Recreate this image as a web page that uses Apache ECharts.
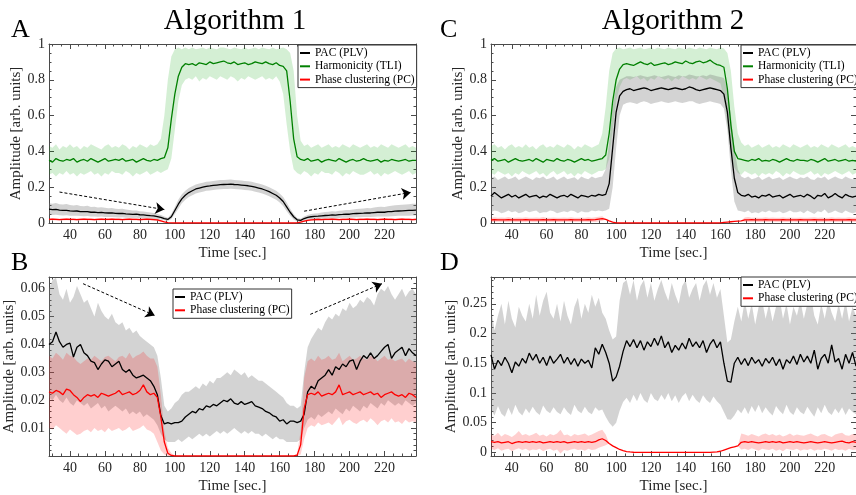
<!DOCTYPE html>
<html><head><meta charset="utf-8">
<script src="https://cdn.jsdelivr.net/npm/echarts@6/dist/echarts.min.js"></script>
<style>html,body{margin:0;padding:0;background:#fff}#c{width:856px;height:495px}</style>
</head><body><div id="c"></div>
<script>
const time = [28,30,32,34,36,38,40,42,44,46,
48,50,52,54,56,58,60,62,64,66,
68,70,72,74,76,78,80,82,84,86,
88,90,92,94,96,98,100,102,104,106,
108,110,112,114,116,118,120,122,124,126,
128,130,132,134,136,138,140,142,144,146,
148,150,152,154,156,158,160,162,164,166,
168,170,172,174,176,178,180,182,184,186,
188,190,192,194,196,198,200,202,204,206,
208,210,212,214,216,218,220,222,224,226,
228,230,232,234,236,238];

// ---------- Panel A (Algorithm 1) ----------
const aGreen = [.35,.34,.36,.35,.345,.355,.35,.36,.34,.35,
.355,.345,.36,.35,.34,.35,.36,.345,.35,.355,
.35,.36,.345,.35,.355,.34,.35,.36,.35,.345,
.355,.35,.36,.365,.42,.58,.72,.82,.87,.89,
.885,.89,.88,.895,.89,.885,.9,.89,.895,.9,
.905,.895,.89,.9,.885,.89,.895,.885,.89,.9,
.895,.89,.9,.89,.885,.895,.88,.875,.85,.68,
.47,.37,.355,.35,.36,.345,.35,.355,.34,.35,
.355,.35,.345,.36,.35,.34,.35,.355,.345,.35,
.36,.35,.345,.35,.355,.34,.35,.345,.355,.35,
.345,.35,.355,.345,.35,.35];
const aGreenHi = [.43,.42,.44,.41,.43,.42,.44,.42,.43,.41,
.43,.42,.44,.43,.42,.41,.43,.44,.42,.43,
.42,.44,.43,.41,.43,.42,.44,.43,.42,.44,
.43,.44,.47,.6,.8,.93,.97,.98,.97,.98,
.97,.98,.97,.975,.98,.97,.98,.975,.97,.98,
.98,.975,.97,.98,.975,.97,.98,.97,.975,.98,
.97,.98,.975,.97,.98,.97,.975,.98,.97,.95,
.85,.6,.46,.43,.44,.42,.43,.44,.42,.43,
.44,.42,.43,.42,.44,.43,.42,.44,.43,.42,
.43,.44,.42,.43,.42,.44,.43,.42,.44,.43,
.42,.43,.44,.42,.43,.42];
const aGreenLo = [.27,.28,.26,.28,.27,.29,.27,.28,.26,.28,
.27,.28,.29,.27,.28,.26,.28,.27,.29,.28,
.28,.27,.29,.28,.26,.28,.27,.28,.29,.27,
.28,.29,.28,.29,.3,.36,.52,.68,.77,.8,
.81,.8,.82,.79,.81,.8,.82,.81,.8,.82,
.81,.8,.82,.81,.79,.81,.8,.82,.81,.8,
.81,.82,.8,.81,.8,.82,.79,.72,.55,.4,
.3,.28,.27,.29,.28,.26,.28,.27,.29,.28,
.28,.27,.29,.28,.26,.28,.27,.29,.28,.27,
.27,.28,.29,.27,.28,.26,.28,.27,.28,.29,
.28,.27,.28,.29,.27,.28];
const aPac = [.078,.075,.076,.072,.070,.071,.068,.066,.067,.064,
.063,.064,.060,.061,.058,.059,.057,.056,.057,.054,
.053,.054,.051,.050,.048,.049,.046,.045,.043,.041,
.040,.036,.032,.025,.020,.035,.070,.105,.135,.155,
.170,.180,.190,.195,.200,.205,.207,.210,.212,.214,
.215,.216,.217,.215,.214,.212,.210,.208,.205,.200,
.195,.190,.183,.175,.165,.155,.140,.120,.090,.060,
.035,.018,.015,.025,.032,.035,.037,.038,.040,.042,
.043,.045,.044,.047,.048,.050,.049,.052,.053,.054,
.055,.057,.056,.058,.060,.061,.060,.063,.064,.066,
.067,.068,.069,.070,.071,.072];
const aPacHi = [.11,.108,.112,.105,.104,.106,.1,.098,.1,.095,
.094,.096,.09,.091,.087,.088,.085,.083,.084,.08,
.078,.079,.075,.073,.07,.07,.066,.064,.061,.058,
.056,.05,.045,.036,.03,.05,.09,.13,.16,.18,
.195,.205,.215,.22,.225,.23,.232,.235,.237,.24,
.24,.242,.243,.24,.239,.237,.235,.233,.23,.225,
.22,.215,.208,.2,.19,.18,.165,.145,.115,.08,
.05,.028,.024,.036,.045,.05,.053,.055,.058,.061,
.063,.066,.064,.068,.07,.073,.072,.076,.078,.08,
.081,.084,.083,.086,.089,.091,.09,.094,.096,.099,
.1,.102,.104,.105,.107,.108];
const aPacLo = [.048,.045,.046,.043,.042,.043,.041,.04,.041,.039,
.038,.039,.036,.037,.035,.036,.034,.033,.034,.032,
.031,.032,.03,.029,.028,.029,.027,.026,.025,.024,
.023,.021,.019,.015,.011,.022,.05,.08,.11,.13,
.145,.155,.165,.17,.175,.18,.182,.185,.187,.189,
.19,.19,.191,.19,.189,.187,.185,.183,.18,.175,
.17,.165,.158,.15,.14,.13,.115,.095,.065,.04,
.02,.009,.007,.015,.019,.021,.022,.023,.024,.025,
.026,.027,.027,.028,.029,.03,.029,.031,.032,.032,
.033,.034,.034,.035,.036,.036,.036,.037,.038,.039,
.04,.04,.041,.041,.042,.042];
const aPc = [.02,.021,.02,.019,.02,.021,.02,.02,.019,.02,
.021,.02,.02,.019,.02,.021,.02,.02,.021,.02,
.02,.019,.02,.021,.02,.02,.019,.02,.021,.02,
.019,.017,.012,.006,.002,.0005,0,0,0,0,
0,0,0,0,0,0,0,0,0,0,
0,0,0,0,0,0,0,0,0,0,
0,0,0,0,0,0,0,0,0,0,
0,.001,.005,.01,.015,.018,.019,.02,.019,.02,
.02,.021,.02,.019,.02,.02,.021,.02,.019,.02,
.02,.021,.02,.02,.019,.02,.021,.02,.02,.019,
.02,.021,.02,.02,.019,.02];
const aPcHi = [.026,.027,.026,.025,.026,.027,.026,.026,.025,.026,
.027,.026,.026,.025,.026,.027,.026,.026,.027,.026,
.026,.025,.026,.027,.026,.026,.025,.026,.027,.026,
.025,.023,.017,.009,.003,.001,0,0,0,0,
0,0,0,0,0,0,0,0,0,0,
0,0,0,0,0,0,0,0,0,0,
0,0,0,0,0,0,0,0,0,0,
0,.002,.008,.014,.02,.024,.025,.026,.025,.026,
.026,.027,.026,.025,.026,.026,.027,.026,.025,.026,
.026,.027,.026,.026,.025,.026,.027,.026,.026,.025,
.026,.027,.026,.026,.025,.026];
const aPcLo = [.014,.015,.014,.013,.014,.015,.014,.014,.013,.014,
.015,.014,.014,.013,.014,.015,.014,.014,.015,.014,
.014,.013,.014,.015,.014,.014,.013,.014,.015,.014,
.013,.011,.007,.003,.001,0,0,0,0,0,
0,0,0,0,0,0,0,0,0,0,
0,0,0,0,0,0,0,0,0,0,
0,0,0,0,0,0,0,0,0,0,
0,0,.002,.006,.01,.012,.013,.014,.013,.014,
.014,.015,.014,.013,.014,.014,.015,.014,.013,.014,
.014,.015,.014,.014,.013,.014,.015,.014,.014,.013,
.014,.015,.014,.014,.013,.014];
const arrowsA = [[[34,0.173],[94,0.075]],[[174,0.066],[235,0.171]]];

// ---------- Panel B (Algorithm 1, zoom) ----------
const bPac = [.040,.041,.0445,.041,.039,.040,.0405,.0355,.039,.040,
.037,.036,.034,.0335,.031,.033,.0345,.034,.032,.033,
.034,.031,.030,.031,.029,.028,.0285,.029,.028,.027,
.025,.022,.0145,.0115,.012,.0115,.012,.012,.0125,.014,
.015,.016,.0155,.017,.0165,.018,.0175,.0185,.018,.019,
.020,.0195,.0205,.019,.0185,.0195,.0185,.019,.0195,.018,
.0175,.017,.016,.0155,.0145,.014,.0125,.013,.0115,.0125,
.0125,.012,.0125,.015,.023,.025,.024,.027,.028,.029,
.031,.029,.032,.031,.033,.032,.034,.0345,.031,.034,
.036,.035,.037,.035,.036,.0375,.039,.040,.035,.037,
.038,.039,.036,.0385,.037,.036];
const bPacHi = [.060,.063,.064,.058,.056,.060,.055,.057,.061,.058,
.055,.056,.053,.050,.055,.052,.050,.049,.051,.048,
.047,.048,.045,.046,.044,.045,.043,.042,.041,.040,
.039,.036,.028,.018,.016,.017,.019,.020,.022,.023,
.023,.024,.025,.024,.026,.025,.027,.026,.028,.028,
.029,.030,.029,.031,.030,.029,.030,.028,.029,.028,
.027,.027,.026,.025,.024,.023,.022,.021,.019,.018,
.018,.017,.018,.030,.039,.042,.044,.046,.045,.048,
.050,.049,.051,.050,.053,.052,.055,.053,.054,.056,
.055,.057,.056,.054,.058,.060,.059,.061,.058,.056,
.058,.060,.057,.059,.060,.058];
const bPacLo = [.021,.020,.022,.020,.019,.021,.019,.018,.020,.019,
.018,.019,.017,.018,.019,.017,.018,.016,.017,.018,
.017,.016,.017,.015,.016,.015,.016,.014,.015,.014,
.013,.011,.008,.006,.005,.005,.005,.006,.005,.006,
.007,.006,.007,.008,.007,.008,.007,.008,.009,.008,
.009,.008,.009,.010,.009,.008,.009,.008,.009,.008,
.008,.007,.008,.007,.006,.007,.006,.006,.005,.005,
.005,.005,.006,.010,.013,.014,.013,.015,.014,.015,
.016,.015,.017,.016,.015,.017,.016,.018,.017,.016,
.018,.017,.019,.018,.017,.019,.018,.020,.019,.018,
.019,.018,.020,.019,.018,.019];
const bPc = [.023,.0225,.0235,.023,.022,.024,.0235,.022,.021,.0195,
.021,.022,.0215,.022,.021,.0225,.022,.0215,.022,.0225,
.0235,.022,.0225,.023,.022,.0225,.0235,.0255,.023,.022,
.0225,.021,.014,.005,.001,.0002,0,0,0,0,
0,0,0,0,0,0,0,0,0,0,
0,0,0,0,0,0,0,0,0,0,
0,0,0,0,0,0,0,0,0,0,
0,.0003,.004,.017,.022,.0225,.022,.023,.0215,.022,
.0225,.022,.023,.0255,.022,.0225,.023,.022,.0225,.023,
.022,.0225,.023,.022,.0225,.021,.022,.0225,.023,.022,
.0215,.022,.021,.0225,.022,.021];
const bPcHi = [.036,.035,.037,.036,.0345,.037,.036,.0355,.034,.033,
.034,.035,.0345,.036,.035,.034,.0355,.036,.035,.034,
.0355,.036,.035,.037,.035,.036,.0365,.0375,.036,.035,
.035,.032,.022,.009,.003,.001,.0003,0,0,0,
0,0,0,0,0,0,0,0,0,0,
0,0,0,0,0,0,0,0,0,0,
0,0,0,0,0,0,0,0,0,0,
0,.001,.009,.028,.034,.035,.034,.036,.0345,.035,
.036,.0345,.035,.037,.034,.035,.036,.0345,.035,.036,
.035,.0345,.036,.0355,.034,.035,.036,.0345,.035,.034,
.0345,.035,.0335,.035,.034,.0335];
const bPcLo = [.01,.0095,.011,.01,.009,.008,.0095,.0085,.0075,.008,
.009,.0095,.0085,.01,.009,.0095,.0085,.01,.009,.0095,
.01,.009,.0095,.0105,.009,.0095,.01,.011,.0095,.009,
.008,.005,.002,.0005,0,0,0,0,0,0,
0,0,0,0,0,0,0,0,0,0,
0,0,0,0,0,0,0,0,0,0,
0,0,0,0,0,0,0,0,0,0,
0,0,.0005,.006,.01,.011,.0105,.012,.011,.0115,
.012,.011,.0125,.014,.011,.0125,.013,.012,.0115,.0125,
.013,.012,.0135,.0125,.011,.0125,.013,.012,.0135,.012,
.0125,.0115,.013,.012,.0125,.012];
const arrowsB = [[[47.5,0.0618],[88.5,0.0504]],[[177.5,0.0508],[218.5,0.0618]]];

// ---------- Panel C (Algorithm 2) ----------
const cGreen = [.35,.36,.345,.35,.355,.34,.35,.36,.35,.345,
.35,.355,.345,.36,.35,.34,.355,.35,.345,.36,
.35,.345,.355,.35,.34,.35,.36,.35,.355,.345,
.35,.355,.36,.38,.5,.68,.8,.86,.885,.89,
.885,.88,.89,.9,.89,.885,.895,.88,.885,.89,
.895,.885,.89,.9,.895,.89,.905,.895,.89,.9,
.905,.895,.9,.91,.895,.885,.88,.87,.75,.55,
.4,.36,.355,.35,.345,.355,.35,.36,.345,.35,
.345,.355,.35,.34,.35,.36,.35,.345,.355,.35,
.35,.345,.355,.35,.34,.35,.36,.345,.35,.355,
.345,.35,.355,.345,.35,.345];
const cGreenHi = [.43,.44,.42,.43,.41,.43,.44,.42,.43,.42,
.44,.42,.43,.41,.43,.44,.42,.43,.42,.44,
.43,.42,.44,.43,.41,.43,.42,.44,.43,.42,
.43,.44,.5,.65,.85,.95,.975,.98,.97,.975,
.98,.97,.975,.98,.97,.975,.98,.97,.98,.975,
.97,.98,.975,.97,.98,.975,.97,.98,.975,.97,
.98,.975,.97,.98,.975,.97,.98,.975,.95,.85,
.65,.5,.45,.43,.44,.42,.43,.44,.42,.43,
.44,.42,.43,.42,.44,.43,.42,.44,.43,.42,
.43,.44,.42,.43,.42,.44,.43,.42,.44,.43,
.42,.43,.44,.42,.43,.42];
const cGreenLo = [.28,.27,.29,.28,.27,.28,.26,.28,.27,.29,
.28,.27,.28,.29,.27,.28,.26,.28,.29,.27,
.28,.29,.27,.28,.26,.28,.27,.29,.28,.27,
.28,.29,.29,.3,.36,.52,.68,.76,.8,.81,
.8,.81,.82,.8,.81,.79,.81,.8,.82,.81,
.8,.81,.79,.81,.8,.82,.81,.8,.81,.8,
.82,.81,.8,.81,.8,.79,.78,.7,.55,.4,
.31,.28,.27,.29,.28,.27,.28,.26,.28,.27,
.28,.27,.29,.28,.26,.28,.27,.29,.28,.27,
.27,.28,.29,.27,.28,.26,.28,.27,.28,.29,
.28,.27,.28,.29,.27,.28];
const cPac = [.15,.17,.155,.14,.15,.16,.145,.155,.14,.15,
.16,.145,.15,.155,.14,.15,.145,.16,.15,.14,
.15,.155,.145,.16,.15,.14,.155,.15,.145,.155,
.15,.16,.155,.16,.22,.42,.62,.71,.735,.745,
.75,.74,.745,.75,.755,.75,.74,.745,.75,.755,
.75,.745,.75,.755,.75,.745,.75,.76,.755,.745,
.74,.745,.75,.755,.75,.745,.74,.72,.62,.42,
.25,.17,.155,.15,.16,.145,.15,.14,.155,.15,
.16,.145,.15,.155,.14,.15,.16,.145,.15,.155,
.145,.16,.15,.135,.155,.15,.165,.14,.15,.165,
.15,.14,.16,.15,.145,.15];
const cPacHi = [.25,.26,.24,.25,.26,.245,.25,.26,.24,.25,
.26,.25,.24,.255,.25,.26,.245,.25,.26,.24,
.25,.26,.245,.25,.255,.24,.26,.25,.245,.26,
.25,.255,.26,.3,.45,.65,.76,.8,.81,.82,
.82,.815,.82,.825,.82,.815,.82,.825,.82,.815,
.82,.825,.82,.815,.825,.82,.82,.83,.825,.82,
.82,.825,.82,.83,.825,.82,.815,.81,.75,.6,
.42,.3,.26,.25,.26,.245,.25,.26,.24,.25,
.26,.245,.25,.255,.24,.25,.26,.25,.245,.255,
.25,.26,.245,.24,.255,.25,.26,.24,.25,.26,
.25,.245,.26,.25,.245,.25];
const cPacLo = [.06,.07,.065,.055,.06,.07,.06,.065,.055,.06,
.07,.06,.065,.07,.055,.06,.06,.07,.065,.055,
.06,.065,.06,.07,.065,.055,.065,.06,.06,.07,
.065,.07,.065,.07,.08,.2,.42,.6,.66,.67,
.675,.67,.665,.675,.68,.675,.665,.67,.675,.68,
.675,.67,.675,.68,.675,.67,.675,.68,.68,.67,
.665,.67,.675,.68,.675,.67,.665,.64,.52,.3,
.12,.07,.065,.06,.07,.055,.06,.055,.065,.06,
.07,.06,.06,.065,.055,.06,.07,.06,.06,.065,
.055,.07,.06,.05,.065,.06,.075,.055,.06,.07,
.06,.055,.07,.06,.055,.06];
const cPc = [.018,.019,.018,.017,.018,.019,.018,.018,.017,.018,
.019,.018,.018,.017,.018,.019,.018,.018,.019,.018,
.018,.017,.018,.019,.018,.018,.017,.018,.019,.018,
.019,.022,.025,.02,.012,.005,.001,0,0,0,
0,0,0,0,0,0,0,0,0,0,
0,0,0,0,0,0,0,0,0,0,
0,0,0,0,0,0,.001,.003,.005,.007,
.009,.011,.012,.018,.018,.019,.018,.017,.018,.019,
.018,.018,.017,.018,.019,.018,.018,.017,.018,.019,
.018,.017,.018,.019,.018,.018,.017,.018,.019,.018,
.018,.017,.018,.019,.018,.018];
const cPcHi = [.03,.032,.029,.031,.03,.033,.03,.029,.031,.03,
.032,.03,.029,.031,.03,.033,.03,.029,.031,.03,
.03,.031,.03,.032,.029,.03,.031,.03,.032,.03,
.032,.035,.038,.022,.012,.005,.001,0,0,0,
0,0,0,0,0,0,0,0,0,0,
0,0,0,0,0,0,0,0,0,0,
0,0,0,0,0,0,.001,.003,.005,.007,
.009,.011,.012,.031,.033,.03,.031,.029,.03,.032,
.03,.031,.029,.03,.032,.03,.031,.03,.029,.031,
.03,.029,.031,.032,.03,.031,.029,.03,.032,.03,
.031,.029,.03,.032,.03,.031];
const cPcLo = [.006,.005,.007,.006,.005,.006,.007,.005,.006,.006,
.005,.007,.006,.005,.006,.006,.007,.005,.006,.005,
.006,.005,.007,.006,.005,.006,.006,.007,.005,.006,
.006,.008,.012,.018,.012,.005,.001,0,0,0,
0,0,0,0,0,0,0,0,0,0,
0,0,0,0,0,0,0,0,0,0,
0,0,0,0,0,0,.001,.003,.005,.007,
.009,.011,.012,.006,.005,.006,.007,.005,.006,.006,
.005,.007,.006,.005,.006,.006,.005,.007,.006,.005,
.006,.005,.007,.006,.005,.006,.006,.007,.005,.006,
.006,.005,.007,.006,.005,.006];

// ---------- Panel D (Algorithm 2, zoom) ----------
const dPac = [.164,.140,.155,.146,.160,.150,.134,.152,.145,.158,
.150,.167,.155,.165,.150,.160,.146,.162,.150,.157,
.165,.150,.160,.148,.158,.145,.157,.150,.155,.142,
.176,.165,.182,.168,.150,.120,.127,.145,.170,.188,
.178,.190,.176,.188,.172,.186,.178,.192,.180,.196,
.176,.186,.168,.180,.172,.184,.174,.192,.178,.186,
.176,.188,.168,.182,.190,.176,.186,.150,.120,.118,
.150,.160,.148,.158,.146,.160,.150,.156,.145,.158,
.150,.160,.146,.157,.140,.156,.150,.162,.148,.165,
.152,.162,.150,.172,.140,.158,.165,.150,.181,.152,
.158,.140,.165,.150,.168,.145];
const dPacHi = [.245,.205,.23,.25,.215,.255,.225,.21,.245,.23,
.22,.25,.225,.265,.23,.255,.27,.235,.225,.25,
.22,.255,.23,.215,.245,.26,.225,.25,.235,.265,
.245,.26,.235,.225,.205,.19,.195,.255,.285,.29,
.265,.29,.255,.28,.29,.26,.285,.255,.275,.29,
.27,.255,.285,.265,.25,.28,.29,.26,.275,.285,
.255,.28,.29,.265,.285,.26,.275,.23,.185,.19,
.22,.245,.22,.255,.225,.25,.215,.245,.255,.225,
.25,.22,.245,.26,.225,.25,.215,.245,.23,.255,
.225,.25,.265,.23,.215,.25,.225,.255,.235,.22,
.25,.225,.255,.22,.245,.23];
const dPacLo = [.072,.062,.078,.065,.06,.075,.063,.08,.068,.062,
.074,.066,.077,.068,.063,.079,.07,.066,.076,.068,
.064,.076,.068,.063,.08,.07,.066,.077,.068,.064,
.076,.07,.072,.06,.05,.043,.05,.07,.085,.092,
.083,.097,.086,.1,.088,.083,.1,.09,.086,.097,
.088,.1,.086,.096,.083,.094,.1,.086,.097,.088,
.083,.096,.088,.083,.094,.086,.08,.068,.056,.055,
.062,.072,.066,.076,.064,.078,.068,.08,.066,.076,
.068,.062,.078,.07,.064,.08,.068,.063,.076,.068,
.064,.077,.068,.06,.076,.066,.08,.068,.063,.074,
.066,.076,.063,.074,.068,.064];
const dPc = [.018,.017,.018,.016,.017,.018,.015,.017,.018,.017,
.018,.017,.018,.017,.018,.016,.017,.018,.017,.018,
.017,.018,.016,.017,.018,.017,.018,.017,.018,.017,
.018,.021,.023,.02,.015,.011,.008,.005,.003,.0015,
.0008,.0003,0,0,0,0,0,0,0,0,
0,0,0,0,0,0,0,0,0,0,
0,0,0,0,.0005,.001,.002,.004,.006,.008,
.0095,.011,.017,.018,.017,.018,.017,.016,.017,.018,
.017,.018,.017,.018,.016,.017,.018,.017,.018,.017,
.016,.017,.018,.017,.016,.017,.018,.017,.016,.017,
.018,.019,.017,.016,.018,.017];
const dPcHi = [.03,.028,.033,.027,.031,.029,.026,.03,.036,.029,
.031,.028,.03,.033,.028,.03,.027,.031,.029,.032,
.038,.029,.03,.027,.031,.029,.03,.032,.028,.03,
.033,.036,.038,.03,.015,.011,.008,.005,.003,.0015,
.0008,.0003,0,0,0,0,0,0,0,0,
0,0,0,0,0,0,0,0,0,0,
0,0,0,0,.0005,.001,.002,.004,.006,.008,
.0095,.011,.032,.03,.028,.031,.029,.027,.03,.032,
.029,.031,.028,.03,.027,.029,.032,.028,.03,.029,
.028,.03,.032,.029,.027,.03,.031,.028,.026,.03,
.032,.033,.029,.028,.031,.03];
const dPcLo = [.006,.004,.007,.003,.005,.006,.002,.005,.007,.004,
.006,.003,.005,.004,.006,.002,.005,.006,.003,.005,
-.002,.004,.003,.005,.006,.004,.005,.003,.006,.004,
.005,.008,.01,.012,.015,.011,.008,.005,.003,.0015,
.0008,.0003,0,0,0,0,0,0,0,0,
0,0,0,0,0,0,0,0,0,0,
0,0,0,0,.0005,.001,.002,.004,.006,.008,
.0095,.011,.005,.006,.004,.007,.005,.003,.006,.005,
.004,.006,.003,.005,.002,.006,.005,.004,.006,.003,
.005,.004,.006,.003,.005,.004,.006,.005,.003,.006,
.004,.005,.003,.006,.004,.005];

// ---------- labels ----------
const legend3 = ['PAC (PLV)','Harmonicity (TLI)','Phase clustering (PC)'];
const legend2 = ['PAC (PLV)','Phase clustering (PC)'];
const titles = ['Algorithm 1','Algorithm 2'];
const panelLetters = ['A','B','C','D'];
const xTitle = 'Time [sec.]';
const yTitle = 'Amplitude [arb. units]';

const FONT = '"Liberation Serif","Times New Roman",serif';
const AX = '#4a4a4a', TXT = '#262626';
const BLACK = '#000000', GREEN = '#008000', RED = '#ff0000';
const GRAYF = 'rgba(120,120,120,0.33)', GREENF = 'rgba(0,160,0,0.17)', REDF = 'rgba(255,0,0,0.19)';

const chart = echarts.init(document.getElementById('c'), null, {renderer:'canvas'});

const grids = [
  {left:49, top:44, width:367, height:179},
  {left:49, top:277, width:367, height:179},
  {left:491, top:44, width:372, height:179},
  {left:491, top:277, width:372, height:179}
];
const yCfg = [
  {min:0, max:1, split:5, minor:4, showMin:true, showMax:true, gap:22},
  {min:0, max:0.0642, split:6, minor:5, showMin:false, showMax:false, gap:29},
  {min:0, max:1, split:5, minor:4, showMin:true, showMax:true, gap:21},
  {min:-0.006, max:0.295, split:6, minor:5, showMin:false, showMax:false, gap:30}
];
const xAxes = [], yAxes = [];
grids.forEach((g, i) => {
  const tickStyle = {color: AX, width: 1};
  const common = {
    type:'value', gridIndex:i, splitLine:{show:false},
    axisLine:{show:true, onZero:false, lineStyle:{color:AX, width:1}},
    axisTick:{show:true, inside:true, length:5, lineStyle:tickStyle},
  };
  xAxes.push(Object.assign({}, common, {
    position:'bottom', min:28, max:238, splitNumber:10,
    minorTick:{show:true, splitNumber:4, length:2.5, lineStyle:tickStyle},
    axisLabel:{show:true, showMinLabel:false, showMaxLabel:false, margin:5, color:TXT, fontSize:14, fontFamily:FONT},
    name:xTitle, nameLocation:'middle', nameGap:23,
    nameTextStyle:{color:TXT, fontSize:15, fontFamily:FONT}
  }));
  xAxes.push(Object.assign({}, common, {
    position:'top', min:28, max:238, splitNumber:10,
    minorTick:{show:true, splitNumber:4, length:2.5, lineStyle:tickStyle},
    axisLabel:{show:false}
  }));
  const y = yCfg[i];
  yAxes.push(Object.assign({}, common, {
    position:'left', min:y.min, max:y.max, splitNumber:y.split,
    minorTick:{show:true, splitNumber:y.minor, length:2.5, lineStyle:tickStyle},
    axisLabel:{show:true, showMinLabel:y.showMin, showMaxLabel:y.showMax, margin:4, color:TXT, fontSize:14, fontFamily:FONT},
    name:yTitle, nameLocation:'middle', nameGap:y.gap,
    nameTextStyle:{color:TXT, fontSize:15, fontFamily:FONT}
  }));
  yAxes.push(Object.assign({}, common, {
    position:'right', min:y.min, max:y.max, splitNumber:y.split,
    minorTick:{show:true, splitNumber:y.minor, length:2.5, lineStyle:tickStyle},
    axisLabel:{show:false}
  }));
});

function band(gi, lo, hi, fill) {
  return {
    type:'custom', xAxisIndex:2*gi, yAxisIndex:2*gi, silent:true, animation:false,
    data:[[time[0], lo[0]]],
    renderItem:(params, api) => {
      const pts = [];
      for (let i = 0; i < time.length; i++) pts.push(api.coord([time[i], hi[i]]));
      for (let i = time.length - 1; i >= 0; i--) pts.push(api.coord([time[i], lo[i]]));
      return {type:'polygon', shape:{points:pts}, style:{fill:fill, stroke:null}};
    }
  };
}
function line(gi, name, vals, color, extra) {
  return Object.assign({
    type:'line', name, xAxisIndex:2*gi, yAxisIndex:2*gi,
    data: time.map((t, i) => [t, vals[i]]),
    symbol:'none', showSymbol:false, color, itemStyle:{color},
    lineStyle:{color, width:1.3}, animation:false, silent:true
  }, extra || {});
}
function arrows(list) {
  return {
    silent:true, animation:false, symbol:['none','arrow'], symbolSize:9,
    lineStyle:{color:'#000', type:[3,2], width:1},
    label:{show:false},
    data: list.map(a => [{coord:a[0]}, {coord:a[1]}])
  };
}

const series = [
  band(0, aGreenLo, aGreenHi, GREENF),
  band(0, aPacLo, aPacHi, GRAYF),
  band(0, aPcLo, aPcHi, REDF),
  line(0, legend3[1], aGreen, GREEN),
  line(0, legend3[0], aPac, BLACK, {markLine: arrows(arrowsA)}),
  line(0, legend3[2], aPc, RED),

  band(1, bPacLo, bPacHi, GRAYF),
  band(1, bPcLo, bPcHi, REDF),
  line(1, legend2[0], bPac, BLACK, {markLine: arrows(arrowsB)}),
  line(1, legend2[1], bPc, RED),

  band(2, cGreenLo, cGreenHi, GREENF),
  band(2, cPacLo, cPacHi, GRAYF),
  band(2, cPcLo, cPcHi, REDF),
  line(2, legend3[1], cGreen, GREEN),
  line(2, legend3[0], cPac, BLACK),
  line(2, legend3[2], cPc, RED),

  band(3, dPacLo, dPacHi, GRAYF),
  band(3, dPcLo, dPcHi, REDF),
  line(3, legend2[0], dPac, BLACK),
  line(3, legend2[1], dPc, RED)
];

function legendBox(data, left, top) {
  return {
    data, left, top, orient:'vertical', icon:'rect', itemWidth:10, itemHeight:2,
    itemGap:1.3, padding:[2,2,2,2], borderColor:'#333', borderWidth:1,
    backgroundColor:'#fff', selectedMode:false, z:10,
    textStyle:{fontFamily:FONT, fontSize:11.5, color:'#000', lineHeight:12}
  };
}

const txt = (text, x, y, size, align) => ({
  type:'text', x, y, silent:true,
  style:{text, fill:'#000', font: size + 'px ' + FONT, align: align, verticalAlign:'middle',
         textAlign: align, textVerticalAlign:'middle'}
});

chart.setOption({
  animation:false,
  backgroundColor:'#fff',
  grid: grids.map(g => Object.assign({containLabel:false}, g)),
  xAxis: xAxes, yAxis: yAxes,
  legend: [
    legendBox(legend3, 298, 45),
    legendBox(legend2, 173, 289),
    legendBox(legend3, 741, 45),
    legendBox(legend2, 741, 277)
  ],
  graphic: [
    txt(titles[0], 235, 21, 29, 'center'),
    txt(titles[1], 673, 21, 29, 'center'),
    txt(panelLetters[0], 11, 30, 26, 'left'),
    txt(panelLetters[1], 11, 263, 26, 'left'),
    txt(panelLetters[2], 440, 30, 26, 'left'),
    txt(panelLetters[3], 440, 263, 26, 'left')
  ],
  series
});
</script></body></html>
